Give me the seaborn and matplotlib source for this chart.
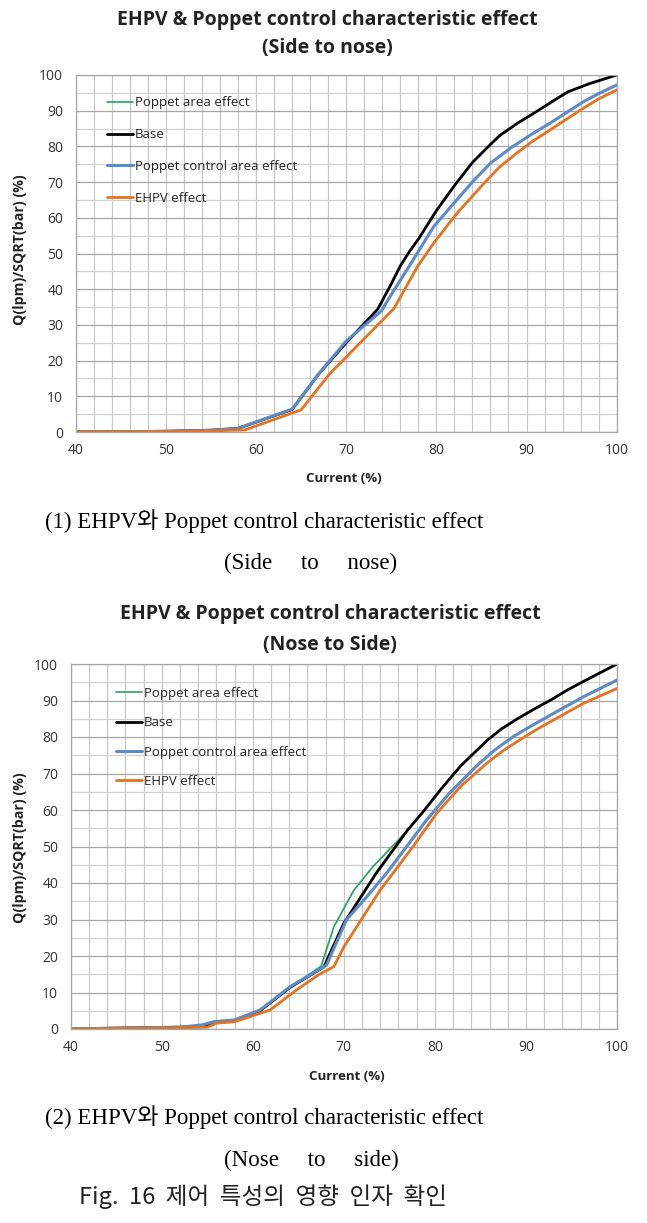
import seaborn as sns
import matplotlib.pyplot as plt
from matplotlib.ticker import MultipleLocator


# ---------------- data ----------------
# (1) Side to nose
s2n_base_x = [40, 50, 55, 58, 64, 67, 70, 73.5, 75, 76, 77, 78, 80, 82, 84, 85.5, 87, 89, 91, 93,
              94.6, 97, 100]
s2n_base_y = [0, 0.2, 0.5, 1, 6.3, 16.4, 25, 34.4, 41.5, 46.5, 50.5, 54, 62, 69, 75.5, 79.3, 83,
              86.5, 89.6, 92.8, 95.3, 97.6, 100]
s2n_poppet_x = list(s2n_base_x)
s2n_poppet_y = list(s2n_base_y)
s2n_ctrl_x = [40, 50, 55, 58, 64, 67, 70, 73.9, 75, 77.2, 79.7, 81.6, 84.2, 86, 88.2, 90.5, 92.6,
              96.3, 98, 100]
s2n_ctrl_y = [0, 0.2, 0.5, 1, 6.4, 16.4, 25.5, 33.9, 38.5, 47.3, 57.5, 63.1, 70.6, 75.3, 79.5,
              83.3, 86.5, 92.5, 94.8, 97.2]
s2n_ehpv_x = [40, 50, 55, 58.8, 65, 68.2, 70, 75.3, 77.9, 79.7, 82.3, 85.3, 87, 88.9, 90.7, 92.6,
              96.3, 98, 100]
s2n_ehpv_y = [0, 0.1, 0.3, 0.6, 6.2, 16.4, 21, 34.6, 46.3, 52.9, 61.3, 69.7, 74.2, 78.1, 81.5,
              84.6, 90.7, 93.3, 95.8]

# (2) Nose to side
n2s_base_x = [40, 44, 52, 54.5, 56, 58, 60.8, 64.1, 67.8, 70, 71.7, 73.5, 75.4, 77, 78.7, 80.6,
              82.8, 85.7, 87.3, 89, 91, 92.7, 94.5, 96.3, 100]
n2s_base_y = [0, 0.2, 0.5, 0.8, 1.8, 2.3, 5.0, 11.4, 17, 29, 35.5, 42.5, 49, 54.5, 59.5, 65.5,
              72, 79, 82.2, 84.9, 87.8, 90.1, 92.8, 95.2, 100]
n2s_poppet_x = [40, 44, 52, 54.5, 56, 58, 60.8, 64.1, 67.5, 68.9, 71.1, 73.2, 75.7, 77, 78.7,
                80.6, 82.8, 85.7, 87.3, 89, 91, 92.7, 94.5, 96.3, 100]
n2s_poppet_y = [0, 0.2, 0.5, 0.8, 1.8, 2.3, 5.0, 11.4, 17.2, 28, 38, 44.5, 51, 54.5, 59.5,
                65.5, 72, 79, 82.2, 84.9, 87.8, 90.1, 92.8, 95.2, 100]
n2s_ctrl_x = [40, 44, 52, 54.4, 55.7, 58, 60.8, 64.1, 68.1, 70.3, 72.2, 74.7, 76.9, 79.1, 81.6,
              84.5, 86.5, 88.6, 90.7, 92.7, 96.3, 100]
n2s_ctrl_y = [0, 0.2, 0.5, 1.1, 2.0, 2.5, 5.2, 11.6, 17.5, 30, 35.3, 42.7, 50, 57.3, 64.6,
              71.9, 76.3, 80.1, 83.2, 86, 91, 95.6]
n2s_ehpv_x = [40, 44, 52, 55, 56, 58, 61.9, 64.8, 67.2, 68.9, 70, 72, 74, 75.4, 77.6, 80.2,
              82.8, 85.7, 87.3, 89, 90.8, 92.7, 96.3, 100]
n2s_ehpv_y = [0, 0.1, 0.3, 0.5, 1.6, 2.0, 5.2, 10.7, 14.8, 17.1, 22.5, 30.3, 38.1, 42.7, 50,
              59.1, 66.4, 72.8, 75.9, 78.7, 81.5, 84.2, 89.2, 93.3]

series_names = ['Poppet area effect', 'Base', 'Poppet control area effect', 'EHPV effect']
series_colors = ['#22a45a', '#000000', '#5b8bc9', '#e6731f']
series_widths = [1.2, 2.0, 2.2, 2.0]

W, H = 647, 1223
sns.set_theme(style='white')
plt.rcParams['font.family'] = ['Open Sans', 'Noto Sans CJK KR', 'DejaVu Sans']


def px(x, y):
    # pixel position -> figure fraction
    return x / W, 1 - y / H


def draw_panel(ax, data, legend_anchor, spacing):
    for (xs, ys), name, col, lw in zip(data, series_names, series_colors, series_widths):
        sns.lineplot(x=xs, y=ys, ax=ax, color=col, linewidth=lw, label=name,
                     estimator=None, sort=False)
    ax.set_xlim(40, 100)
    ax.set_ylim(0, 100)
    ax.xaxis.set_major_locator(MultipleLocator(10))
    ax.xaxis.set_minor_locator(MultipleLocator(2))
    ax.yaxis.set_major_locator(MultipleLocator(10))
    ax.yaxis.set_minor_locator(MultipleLocator(5))
    ax.set_axisbelow(True)
    ax.xaxis.grid(True, which='both', color='#c8c8c8', linewidth=0.9)
    ax.yaxis.grid(True, which='major', color='#a6a6a6', linewidth=0.9)
    ax.yaxis.grid(True, which='minor', color='#d2d2d2', linewidth=0.9)
    for sp in ax.spines.values():
        sp.set_color('#a6a6a6')
        sp.set_linewidth(0.9)
    ax.tick_params(which='both', length=0, labelsize=10, colors='#333333')
    ax.tick_params(axis='y', pad=9)
    ax.tick_params(axis='x', pad=8)
    ax.set_xlabel('')
    ax.set_ylabel('')
    ax.legend(loc='upper left', bbox_to_anchor=legend_anchor, frameon=False,
              fontsize=9.5, handlelength=2.0, handletextpad=0.1, labelspacing=spacing,
              borderpad=0, borderaxespad=0)


fig = plt.figure(figsize=(W / 100, H / 100), dpi=100)

# top panel: plot area 75.7..616.7 x 75..432
ax1 = fig.add_axes([75.7 / W, 1 - 432 / H, 541 / W, 357 / H])
draw_panel(ax1, [(s2n_poppet_x, s2n_poppet_y), (s2n_base_x, s2n_base_y),
                 (s2n_ctrl_x, s2n_ctrl_y), (s2n_ehpv_x, s2n_ehpv_y)], (0.058, 0.94), 1.42)

# bottom panel: plot area 70.7..617 x 664..1029
ax2 = fig.add_axes([70.7 / W, 1 - 1029 / H, 546.3 / W, 365 / H])
draw_panel(ax2, [(n2s_poppet_x, n2s_poppet_y), (n2s_base_x, n2s_base_y),
                 (n2s_ctrl_x, n2s_ctrl_y), (n2s_ehpv_x, n2s_ehpv_y)], (0.083, 0.938), 1.25)

title_kw = dict(ha='center', va='center', fontsize=14, fontweight='bold', color='#222222')
lab_kw = dict(ha='center', va='center', fontsize=9.5, fontweight='bold', color='#222222')
ylab_kw = dict(ha='center', va='center', fontsize=10.2, fontweight='bold', color='#222222',
               rotation=90)
cap_kw = dict(ha='center', va='center', fontsize=16.5, color='black',
              family=['Liberation Serif', 'Noto Sans CJK KR'])

fig.text(*px(327, 20), 'EHPV & Poppet control characteristic effect', **title_kw)
fig.text(*px(327, 48), '(Side to nose)', **title_kw)
fig.text(*px(344, 478), 'Current (%)', **lab_kw)
fig.text(*px(20, 250), 'Q(lpm)/SQRT(bar) (%)', **ylab_kw)
fig.text(*px(264, 521), '(1) EHPV와 Poppet control characteristic effect', **cap_kw)
fig.text(*px(311, 563), '(Side     to     nose)', **cap_kw)

fig.text(*px(330, 614), 'EHPV & Poppet control characteristic effect', **title_kw)
fig.text(*px(330, 645), '(Nose to Side)', **title_kw)
fig.text(*px(347, 1076), 'Current (%)', **lab_kw)
fig.text(*px(20, 848), 'Q(lpm)/SQRT(bar) (%)', **ylab_kw)
fig.text(*px(264, 1117), '(2) EHPV와 Poppet control characteristic effect', **cap_kw)
fig.text(*px(311, 1160), '(Nose     to     side)', **cap_kw)

fig.text(*px(263, 1197), 'Fig.  16  제어  특성의  영향  인자  확인', ha='center', va='center',
         fontsize=17, color='#222222', family=['Noto Sans CJK KR', 'DejaVu Sans'])

fig.savefig('out.png', dpi=100)
